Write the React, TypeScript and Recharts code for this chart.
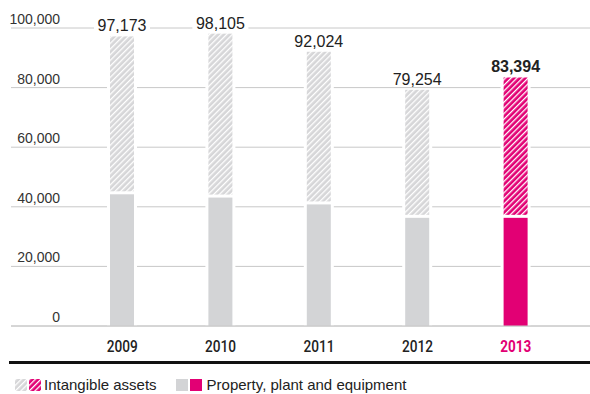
import React from "react";
import { BarChart, Bar, XAxis, YAxis, CartesianGrid, LabelList } from "recharts";

const years = ["2009", "2010", "2011", "2012", "2013"];
const totals = [97173, 98105, 92024, 79254, 83394];
const ppe = [44700, 43600, 41300, 36800, 36800];
const intangible = [52473, 54505, 50724, 42454, 46594];
const yTicks = [0, 20000, 40000, 60000, 80000, 100000];

const data = years.map((year, i) => ({
  year,
  total: totals[i],
  ppe: ppe[i],
  intangible: intangible[i],
}));

const MAGENTA = "#e20074";
const GRAY = "#d3d4d6";
const GRID = "#c8c8c8";
const FONT = "'Liberation Sans', Arial, sans-serif";
const fmt = (v: number) => v.toLocaleString("en-US");

function Patterns() {
  return (
    <svg width={0} height={0} style={{ position: "absolute" }}>
      <defs>
        <pattern id="hatchGray" width={4} height={4} patternUnits="userSpaceOnUse" patternTransform="rotate(45)">
          <rect width={4} height={4} fill="#d6d6d8" />
          <rect x={0} width={1.3} height={4} fill="#ffffff" />
        </pattern>
        <pattern id="hatchPink" width={4} height={4} patternUnits="userSpaceOnUse" patternTransform="rotate(45)">
          <rect width={4} height={4} fill={MAGENTA} />
          <rect x={0} width={1.3} height={4} fill="#ffffff" />
        </pattern>
      </defs>
    </svg>
  );
}

// bar with a white halo so grid lines stop short of it
function IntangibleShape(props: any) {
  const { x, y, width, height, index } = props;
  const fill = index === 4 ? "url(#hatchPink)" : "url(#hatchGray)";
  return (
    <g>
      <rect x={x - 3} y={y} width={width + 6} height={height} fill="#fff" />
      <rect x={x} y={y} width={width} height={Math.max(height - 1.5, 0)} fill={fill} />
    </g>
  );
}

function PpeShape(props: any) {
  const { x, y, width, height, index } = props;
  const fill = index === 4 ? MAGENTA : GRAY;
  return (
    <g>
      <rect x={x - 3} y={y} width={width + 6} height={height - 0.5} fill="#fff" />
      <rect x={x} y={y + 1.5} width={width} height={Math.max(height - 1.5, 0)} fill={fill} />
    </g>
  );
}

function ValueLabel(props: any) {
  const { x, y, width, value, index } = props;
  const cx = x + width / 2;
  const last = index === 4;
  return (
    <g>
      <rect x={cx - 28} y={y - 20} width={56} height={17} fill="#fff" />
      <text x={cx} y={y - 5} textAnchor="middle" fontSize={16} fontFamily={FONT}
        fontWeight={last ? 700 : 400} fill="#222">
        {fmt(value)}
      </text>
    </g>
  );
}

function YearTick(props: any) {
  const { x, y, payload, index } = props;
  const last = index === 4;
  return (
    <text x={x} y={y + 18} textAnchor="middle" fontSize={16} fontFamily="Roboto, sans-serif"
      fontWeight={last ? 700 : 500} textLength={31} lengthAdjust="spacingAndGlyphs"
      fill={last ? MAGENTA : "#222"}>
      {payload.value}
    </text>
  );
}

function ValueTick(props: any) {
  const { y, payload } = props;
  return (
    <text x={60} y={y - 4} textAnchor="end" fontSize={14} fontFamily={FONT} fill="#333">
      {fmt(payload.value)}
    </text>
  );
}

function Swatch({ fill }: { fill: string }) {
  return (
    <svg width={12} height={12} style={{ display: "block", marginRight: 2 }}>
      <rect width={12} height={12} fill={fill} />
    </svg>
  );
}

export default function App() {
  return (
    <div style={{ position: "absolute", left: 0, top: 0, width: 590, height: 394, background: "#fff", fontFamily: FONT }}>
      <Patterns />
      <BarChart width={590} height={360} data={data} margin={{ top: 28, right: 0, bottom: 0, left: 10 }} barSize={24}>
        <CartesianGrid vertical={false} stroke={GRID} />
        <XAxis dataKey="year" height={34} axisLine={{ stroke: GRID }} tickLine={false}
          padding={{ left: 62, right: 25 }} tick={<YearTick />} interval={0} />
        <YAxis width={1} domain={[0, 100000]} ticks={yTicks} axisLine={false} tickLine={false}
          tick={<ValueTick />} interval={0} />
        <Bar dataKey="ppe" stackId="a" shape={<PpeShape />} isAnimationActive={false} />
        <Bar dataKey="intangible" stackId="a" shape={<IntangibleShape />} isAnimationActive={false}>
          <LabelList dataKey="total" content={<ValueLabel />} />
        </Bar>
      </BarChart>
      <div style={{ position: "absolute", left: 9, top: 361, width: 581, height: 3, background: "#111" }} />
      <div style={{ position: "absolute", left: 15, top: 376, display: "flex", alignItems: "center", fontSize: 15, color: "#222", lineHeight: "18px" }}>
        <Swatch fill="url(#hatchGray)" />
        <Swatch fill="url(#hatchPink)" />
        <span style={{ marginLeft: 1, marginRight: 19 }}>Intangible assets</span>
        <Swatch fill={GRAY} />
        <Swatch fill={MAGENTA} />
        <span style={{ marginLeft: 3 }}>Property, plant and equipment</span>
      </div>
    </div>
  );
}
